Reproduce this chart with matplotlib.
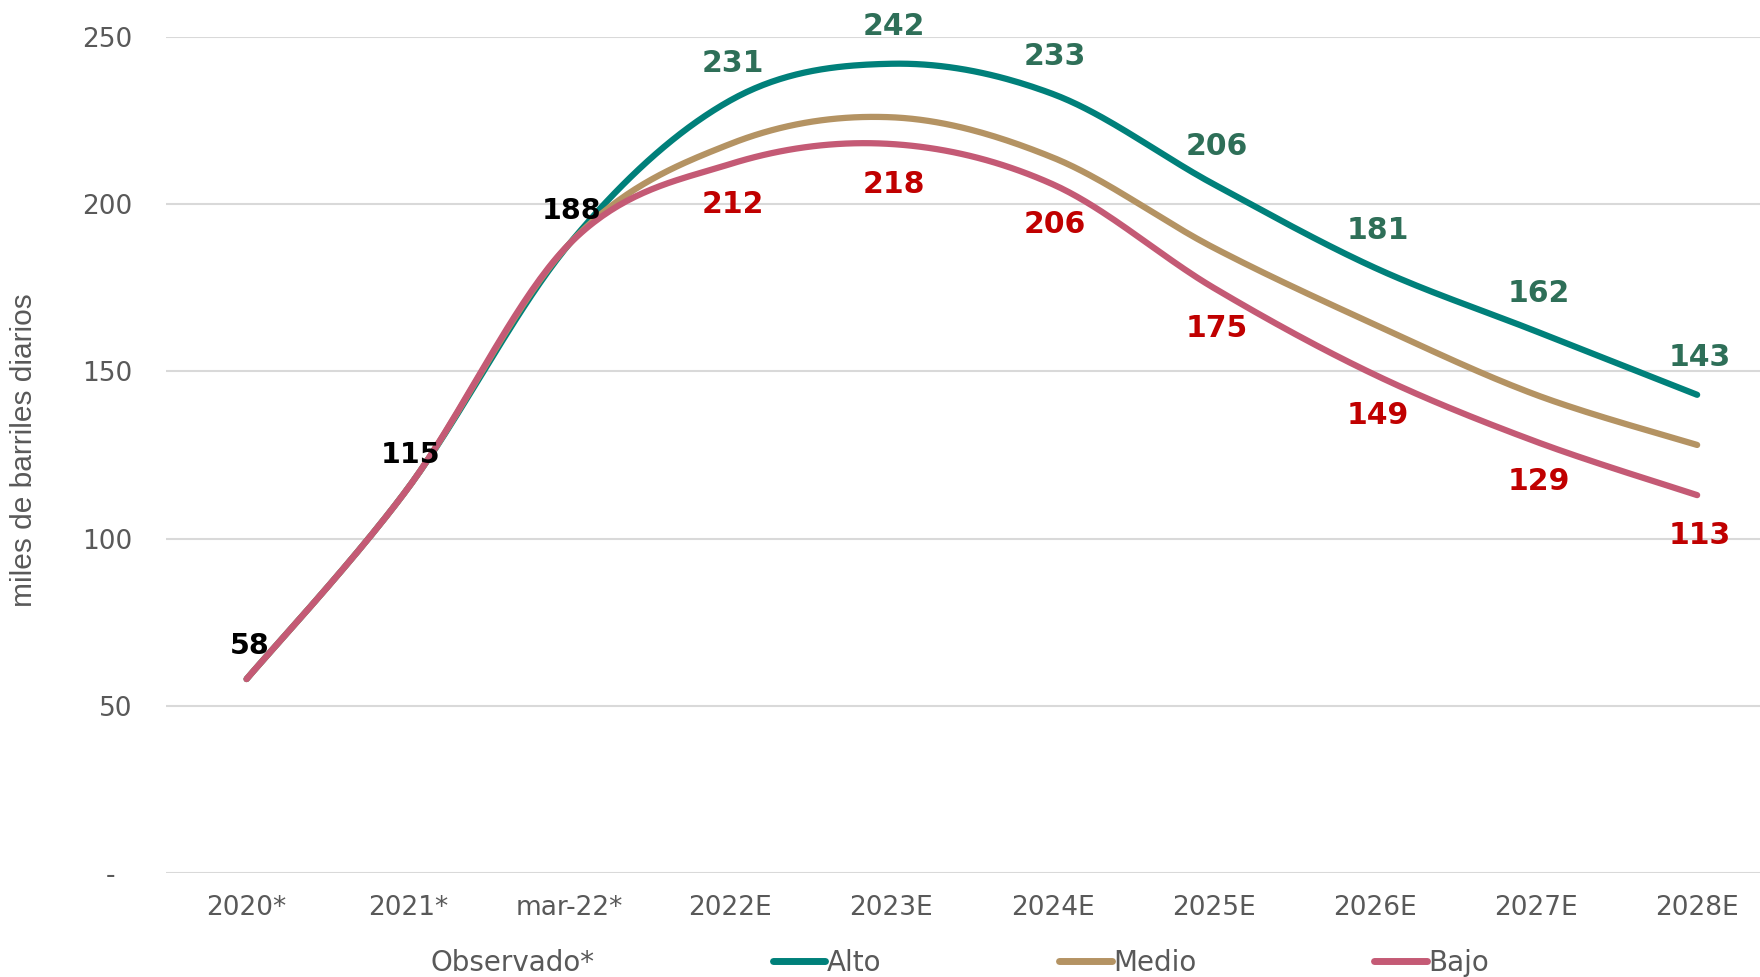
import numpy as np
import matplotlib
matplotlib.use("Agg")
import matplotlib.pyplot as plt
from matplotlib.lines import Line2D

# ── datos ─────────────────────────────────────────────────────────────────────
categorias = ["2020*", "2021*", "mar-22*", "2022E", "2023E", "2024E",
              "2025E", "2026E", "2027E", "2028E"]
alto = [58, 115, 188, 231, 242, 233, 206, 181, 162, 143]
medio = [58, 115, 188, 218, 226, 214, 187, 164, 143, 128]
bajo = [58, 115, 188, 212, 218, 206, 175, 149, 129, 113]
n_obs = 3  # los tres primeros puntos son observados

y_ticks = [0, 50, 100, 150, 200, 250]
y_tick_labels = ["-  ", "50", "100", "150", "200", "250"]

C_ALTO = "#00807A"
C_MEDIO = "#B49363"
C_BAJO = "#C45A75"
C_LBL_ALTO = "#2E6F58"
C_LBL_BAJO = "#C00000"
C_TXT = "#595959"


def suavizar(xs, ys, n=40):
    """Curva suave tipo Excel (Bezier con puntos de control Catmull-Rom)."""
    p = np.column_stack([xs, ys]).astype(float)
    p = np.vstack([p[0], p, p[-1]])
    out = []
    for i in range(1, len(p) - 2):
        p0, p1, p2, p3 = p[i - 1], p[i], p[i + 1], p[i + 2]
        c1 = p1 + (p2 - p0) / 6
        c2 = p2 - (p3 - p1) / 6
        t = np.linspace(0, 1, n)[:, None]
        seg = ((1 - t) ** 3) * p1 + 3 * ((1 - t) ** 2) * t * c1 \
            + 3 * (1 - t) * t ** 2 * c2 + t ** 3 * p2
        out.append(seg if i == 1 else seg[1:])
    out = np.vstack(out)
    return out[:, 0], out[:, 1]


fig = plt.figure(figsize=(17.6, 9.77), dpi=100)
ax = fig.add_axes([166 / 1760, 104 / 977, (1760 - 166) / 1760, 836 / 977])

x = np.arange(len(categorias))
for serie, color in [(alto, C_ALTO), (medio, C_MEDIO), (bajo, C_BAJO)]:
    xs, ys = suavizar(x, serie)
    ax.plot(xs, ys, color=color, linewidth=4.5, solid_capstyle="round", zorder=3)

# etiquetas de datos
for i in range(len(categorias)):
    if i < n_obs:
        ax.annotate(str(alto[i]), (x[i], alto[i]), xytext=(2, 24),
                    textcoords="offset points", ha="center", va="center",
                    fontsize=20.5, fontweight="bold", color="black", zorder=5)
    else:
        ax.annotate(str(alto[i]), (x[i], alto[i]), xytext=(2, 27),
                    textcoords="offset points", ha="center", va="center",
                    fontsize=21.5, fontweight="bold", color=C_LBL_ALTO, zorder=5)
        ax.annotate(str(bajo[i]), (x[i], bajo[i]), xytext=(2, -29),
                    textcoords="offset points", ha="center", va="center",
                    fontsize=21.5, fontweight="bold", color=C_LBL_BAJO, zorder=5)

ax.set_xlim(-0.5, 9.39)
ax.set_ylim(0, 250)
ax.set_xticks(x)
ax.set_xticklabels(categorias)
ax.set_yticks(y_ticks)
ax.set_yticklabels(y_tick_labels)
ax.tick_params(axis="x", length=0, pad=16, labelsize=19, labelcolor=C_TXT)
ax.tick_params(axis="y", length=0, pad=24, labelsize=19, labelcolor=C_TXT)
ax.grid(axis="y", color="#D9D9D9", linewidth=1.5, zorder=0)
for s in ax.spines.values():
    s.set_visible(False)

fig.text(24 / 1760, 1 - 450 / 977, "miles de barriles diarios", rotation=90,
         ha="center", va="center", fontsize=21.5, color=C_TXT,
         family=["Liberation Sans Narrow", "Liberation Sans"])

handles = [
    Line2D([], [], color="none", linewidth=5),
    Line2D([], [], color=C_ALTO, linewidth=5, solid_capstyle="round"),
    Line2D([], [], color=C_MEDIO, linewidth=5, solid_capstyle="round"),
    Line2D([], [], color=C_BAJO, linewidth=5, solid_capstyle="round"),
]
fig.legend(handles, ["Observado*", "Alto", "Medio", "Bajo"], ncol=4,
           loc="center", bbox_to_anchor=(933 / 1760, 1 - 963 / 977),
           frameon=False, fontsize=20, labelcolor=C_TXT,
           handlelength=1.9, handletextpad=0.05, columnspacing=6.4)

fig.savefig("out.png", dpi=100)
